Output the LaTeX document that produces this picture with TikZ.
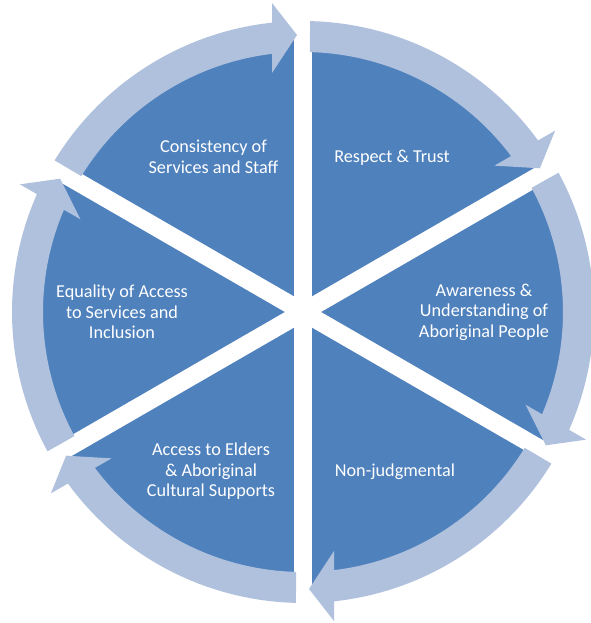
\documentclass[tikz,border=0pt]{standalone}
\usepackage{fontspec}
\setmainfont{Carlito}
\usetikzlibrary{calc}
\definecolor{pieblue}{HTML}{4F81BD}
\definecolor{ringblue}{HTML}{B0C1DE}
\begin{document}
\begin{tikzpicture}[x=1pt,y=1pt,
    segtext/.style={text=white, align=center, inner sep=0pt,
                    font=\fontsize{18.2}{20.5}\selectfont},
    ring/.style={fill=ringblue}]
  \useasboundingbox (-303,-311) rectangle (287,312);
  % The pie and the white spokes between its parts
  \fill[pieblue] (0,0) circle[radius=272];
  \foreach \a in {90,30,150}
    \draw[white, line width=18] (\a:285) -- (\a+180:285);
  % Arrows round the rim, clockwise from spoke to spoke
  \foreach \a in {90,30,-30,-90,-150,150} {
    \pgfmathsetmacro\b{\a-60}
    \fill[ring] (\a-1.4:291) arc[start angle=\a-1.4, end angle=\b+6.1, radius=291]
      -- ($(\b:289)+(\b+90:31)$) -- ($(\b:309)+(\b+90:31)$)
      -- ($(\b:277)+(\b+90:6)$) -- ($(\b:239)+(\b+90:31)$)
      -- ($(\b:258)+(\b+90:31)$)
      -- (\b+6.9:260) arc[start angle=\b+6.9, end angle=\a-1.5, radius=260] -- cycle;
  }
  % Labels
  \node[segtext] (consistency) at (120:179) {Consistency of\\Services and Staff};
  \node[segtext] (respect) at (60:178) {Respect \& Trust};
  \node[segtext] (awareness) at (0:181) {Awareness \&\\Understanding of\\Aboriginal People};
  \node[segtext] (nonjudge) at (-60:184) {Non-judgmental};
  \node[segtext] (elders) at (-120:184) {Access to Elders\\\& Aboriginal\\Cultural Supports};
  \node[segtext] (equality) at (180:181) {Equality of Access\\to Services and\\Inclusion};
\end{tikzpicture}
\end{document}
